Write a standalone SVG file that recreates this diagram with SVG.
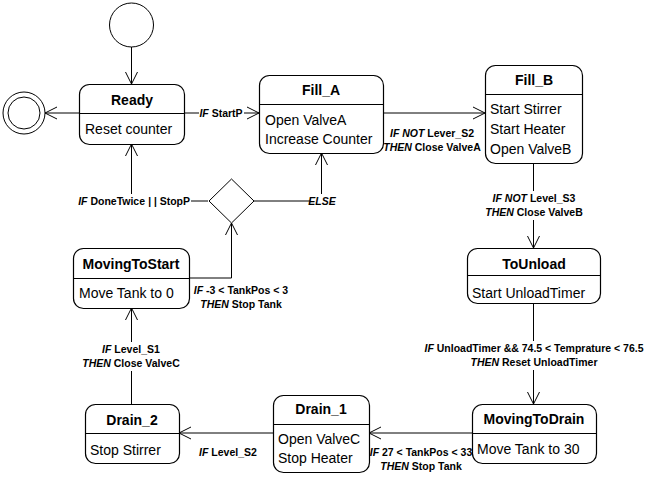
<svg xmlns="http://www.w3.org/2000/svg" width="652" height="480" viewBox="0 0 652 480">
<style>
.node rect.box{fill:#fff;stroke:#000;stroke-width:1.2}
.div{stroke:#000;stroke-width:1}
.title{font-family:"Liberation Sans",Arial,sans-serif;font-size:14px;font-weight:bold;text-anchor:middle;fill:#000}
.body{font-family:"Liberation Sans",Arial,sans-serif;font-size:14px;fill:#000}
.edge{fill:none;stroke:#000;stroke-width:1}
.lbl{font-family:"Liberation Sans",Arial,sans-serif;font-size:10.5px;font-weight:bold;fill:#000;text-anchor:middle}
.lbl .i{font-style:italic}
.bg{fill:#fff;stroke:none}
</style>
<defs>
<marker id="arr" markerWidth="14" markerHeight="14" refX="12" refY="7" orient="auto" markerUnits="userSpaceOnUse">
<path d="M0,1 L12,7 L0,13" fill="none" stroke="#000" stroke-width="1"/>
</marker>
</defs>
<rect x="0" y="0" width="652" height="480" fill="#fff"/>

<g id="connectors">
<path class="edge" d="M131.5,47 L131.5,84" marker-end="url(#arr)"/>
<path class="edge" d="M79,113 L45,113" marker-end="url(#arr)"/>
<path class="edge" d="M184,113 L259,113" marker-end="url(#arr)"/>
<path class="edge" d="M383,113 L485,113" marker-end="url(#arr)"/>
<path class="edge" d="M533.5,163 L533.5,248" marker-end="url(#arr)"/>
<path class="edge" d="M533.5,303 L533.5,404" marker-end="url(#arr)"/>
<path class="edge" d="M472,433 L369,433" marker-end="url(#arr)"/>
<path class="edge" d="M273,433 L179,433" marker-end="url(#arr)"/>
<path class="edge" d="M131.5,404 L131.5,308" marker-end="url(#arr)"/>
<path class="edge" d="M189,278 L231.5,278 L231.5,223" marker-end="url(#arr)"/>
<path class="edge" d="M208,201 L131.5,201 L131.5,144" marker-end="url(#arr)"/>
<path class="edge" d="M254,201 L321.5,201 L321.5,153" marker-end="url(#arr)"/>

<rect class="bg" x="199" y="106" width="45" height="14"/>
<text class="lbl" x="221" y="117"><tspan class="i">IF</tspan> StartP</text>

<text class="lbl" x="432" y="137"><tspan class="i">IF NOT</tspan> Lever_S2</text>
<text class="lbl" x="432" y="151"><tspan class="i">THEN</tspan> Close ValveA</text>

<rect class="bg" x="490" y="191" width="88" height="29"/>
<text class="lbl" x="534" y="202"><tspan class="i">IF NOT</tspan> Level_S3</text>
<text class="lbl" x="534" y="216"><tspan class="i">THEN</tspan> Close ValveB</text>

<rect class="bg" x="419" y="341" width="231" height="29"/>
<text class="lbl" x="534" y="352"><tspan class="i">IF</tspan> UnloadTimer &amp;&amp; 74.5 &lt; Temprature &lt; 76.5</text>
<text class="lbl" x="534" y="366"><tspan class="i">THEN</tspan> Reset UnloadTimer</text>

<text class="lbl" x="421" y="456"><tspan class="i">IF</tspan> 27 &lt; TankPos &lt; 33</text>
<text class="lbl" x="421" y="470"><tspan class="i">THEN</tspan> Stop Tank</text>

<text class="lbl" x="228" y="456"><tspan class="i">IF</tspan> Level_S2</text>

<rect class="bg" x="82" y="342" width="99" height="29"/>
<text class="lbl" x="131" y="353"><tspan class="i">IF</tspan> Level_S1</text>
<text class="lbl" x="131" y="367"><tspan class="i">THEN</tspan> Close ValveC</text>

<text class="lbl" x="241" y="294"><tspan class="i">IF</tspan> -3 &lt; TankPos &lt; 3</text>
<text class="lbl" x="241" y="308"><tspan class="i">THEN</tspan> Stop Tank</text>

<rect class="bg" x="74" y="194" width="117" height="14"/>
<text class="lbl" x="190" y="205" style="text-anchor:end"><tspan class="i">IF</tspan> DoneTwice <tspan class="i">| |</tspan> StopP</text>

<rect class="bg" x="310" y="194" width="25" height="14"/>
<text class="lbl" x="322" y="205"><tspan class="i">ELSE</tspan></text>
</g>

<g id="initial">
<circle cx="131.5" cy="25" r="22" fill="#fff" stroke="#000" stroke-width="1"/>
</g>
<g id="final">
<circle cx="24" cy="113" r="21" fill="#fff" stroke="#000" stroke-width="1"/>
<circle cx="24" cy="113" r="16" fill="#fff" stroke="#000" stroke-width="1"/>
</g>
<g id="decision">
<polygon points="231.5,179 254,201 231.5,223 209,201" fill="#fff" stroke="#000" stroke-width="1"/>
</g>

<g id="Ready" class="node">
<rect class="box" x="79.5" y="84.5" width="105" height="60" rx="10"/>
<line class="div" x1="79.5" y1="113.5" x2="184.5" y2="113.5"/>
<text class="title" x="132" y="105">Ready</text>
<text class="body" x="85" y="134">Reset counter</text>
</g>

<g id="Fill_A" class="node">
<rect class="box" x="259.5" y="75.5" width="124" height="78" rx="10"/>
<line class="div" x1="259.5" y1="104.5" x2="383.5" y2="104.5"/>
<text class="title" x="321" y="95">Fill_A</text>
<text class="body" x="265" y="125">Open ValveA</text>
<text class="body" x="265" y="144">Increase Counter</text>
</g>

<g id="Fill_B" class="node">
<rect class="box" x="485.5" y="65.5" width="97" height="98" rx="10"/>
<line class="div" x1="485.5" y1="94.5" x2="582.5" y2="94.5"/>
<text class="title" x="534" y="85">Fill_B</text>
<text class="body" x="490" y="114">Start Stirrer</text>
<text class="body" x="490" y="134">Start Heater</text>
<text class="body" x="490" y="154">Open ValveB</text>
</g>

<g id="ToUnload" class="node">
<rect class="box" x="467.5" y="248.5" width="133" height="55" rx="10"/>
<line class="div" x1="467.5" y1="275.5" x2="600.5" y2="275.5"/>
<text class="title" x="534" y="269">ToUnload</text>
<text class="body" x="472" y="298">Start UnloadTimer</text>
</g>

<g id="MovingToDrain" class="node">
<rect class="box" x="472.5" y="404.5" width="124" height="59" rx="10"/>
<line class="div" x1="472.5" y1="433.5" x2="596.5" y2="433.5"/>
<text class="title" x="534" y="424">MovingToDrain</text>
<text class="body" x="477" y="454">Move Tank to 30</text>
</g>

<g id="Drain_1" class="node">
<rect class="box" x="273.5" y="395.5" width="96" height="77" rx="10"/>
<line class="div" x1="273.5" y1="424.5" x2="369.5" y2="424.5"/>
<text class="title" x="321" y="414">Drain_1</text>
<text class="body" x="278" y="444">Open ValveC</text>
<text class="body" x="278" y="463">Stop Heater</text>
</g>

<g id="Drain_2" class="node">
<rect class="box" x="85.5" y="404.5" width="94" height="59" rx="10"/>
<line class="div" x1="85.5" y1="433.5" x2="179.5" y2="433.5"/>
<text class="title" x="132" y="425">Drain_2</text>
<text class="body" x="90" y="455">Stop Stirrer</text>
</g>

<g id="MovingToStart" class="node">
<rect class="box" x="73.5" y="248.5" width="116" height="60" rx="10"/>
<line class="div" x1="73.5" y1="278.5" x2="189.5" y2="278.5"/>
<text class="title" x="131" y="269">MovingToStart</text>
<text class="body" x="79" y="298">Move Tank to 0</text>
</g>
</svg>
